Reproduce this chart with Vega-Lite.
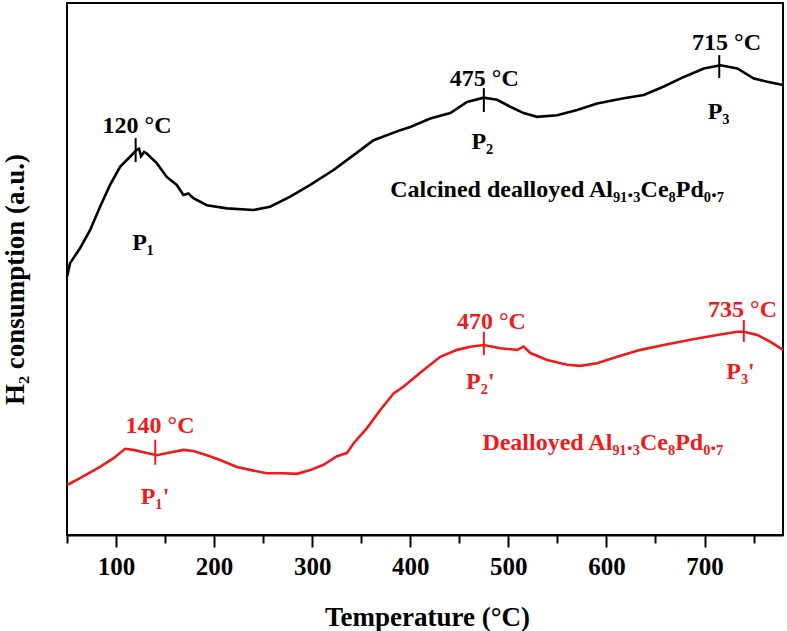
{
  "$schema": "https://vega.github.io/schema/vega-lite/v6.json",
  "width": 716,
  "height": 532,
  "autosize": {"type": "none"},
  "padding": {"left": 67, "top": 3, "right": 4, "bottom": 96},
  "background": "white",
  "config": {
    "view": {"stroke": "black", "strokeWidth": 2},
    "font": "Liberation Serif",
    "text": {"font": "Liberation Serif", "fontWeight": "bold"}
  },
  "datasets": {
    "curves": [
      {"series": "Calcined", "T": 50, "v": 48.5},
      {"series": "Calcined", "T": 53.1, "v": 51.1},
      {"series": "Calcined", "T": 63.3, "v": 53.9},
      {"series": "Calcined", "T": 73.5, "v": 57.3},
      {"series": "Calcined", "T": 83.7, "v": 61.7},
      {"series": "Calcined", "T": 93.9, "v": 65.8},
      {"series": "Calcined", "T": 104.1, "v": 69.2},
      {"series": "Calcined", "T": 114.3, "v": 71.1},
      {"series": "Calcined", "T": 121.1, "v": 72.4},
      {"series": "Calcined", "T": 123.5, "v": 72.6},
      {"series": "Calcined", "T": 125.5, "v": 71.2},
      {"series": "Calcined", "T": 128.6, "v": 72.0},
      {"series": "Calcined", "T": 131.3, "v": 71.7},
      {"series": "Calcined", "T": 141.5, "v": 69.9},
      {"series": "Calcined", "T": 151.7, "v": 67.3},
      {"series": "Calcined", "T": 161.9, "v": 65.8},
      {"series": "Calcined", "T": 168.7, "v": 63.9},
      {"series": "Calcined", "T": 173.8, "v": 64.2},
      {"series": "Calcined", "T": 178.9, "v": 63.3},
      {"series": "Calcined", "T": 192.6, "v": 62.0},
      {"series": "Calcined", "T": 213, "v": 61.4},
      {"series": "Calcined", "T": 240.1, "v": 61.1},
      {"series": "Calcined", "T": 257.1, "v": 61.7},
      {"series": "Calcined", "T": 277.6, "v": 63.6},
      {"series": "Calcined", "T": 298, "v": 65.8},
      {"series": "Calcined", "T": 321.7, "v": 68.6},
      {"series": "Calcined", "T": 342.2, "v": 71.4},
      {"series": "Calcined", "T": 362.6, "v": 74.2},
      {"series": "Calcined", "T": 389.8, "v": 76.1},
      {"series": "Calcined", "T": 400, "v": 76.7},
      {"series": "Calcined", "T": 420.4, "v": 78.3},
      {"series": "Calcined", "T": 440.8, "v": 79.3},
      {"series": "Calcined", "T": 457.9, "v": 81.4},
      {"series": "Calcined", "T": 474.8, "v": 82.2},
      {"series": "Calcined", "T": 488.5, "v": 81.8},
      {"series": "Calcined", "T": 502.0, "v": 80.5},
      {"series": "Calcined", "T": 515.6, "v": 79.3},
      {"series": "Calcined", "T": 529.3, "v": 78.6},
      {"series": "Calcined", "T": 549.7, "v": 78.9},
      {"series": "Calcined", "T": 570.1, "v": 79.9},
      {"series": "Calcined", "T": 590.5, "v": 81.1},
      {"series": "Calcined", "T": 617.7, "v": 82.1},
      {"series": "Calcined", "T": 638.1, "v": 82.7},
      {"series": "Calcined", "T": 658.5, "v": 84.3},
      {"series": "Calcined", "T": 678.9, "v": 86.1},
      {"series": "Calcined", "T": 699.3, "v": 87.7},
      {"series": "Calcined", "T": 716.3, "v": 88.3},
      {"series": "Calcined", "T": 733.4, "v": 87.7},
      {"series": "Calcined", "T": 750.3, "v": 85.8},
      {"series": "Calcined", "T": 764.0, "v": 85.2},
      {"series": "Calcined", "T": 780, "v": 84.6},
      {"series": "Dealloyed", "T": 50, "v": 9.4},
      {"series": "Dealloyed", "T": 63.3, "v": 10.7},
      {"series": "Dealloyed", "T": 83.7, "v": 12.8},
      {"series": "Dealloyed", "T": 97.2, "v": 14.4},
      {"series": "Dealloyed", "T": 109.2, "v": 16.2},
      {"series": "Dealloyed", "T": 117.7, "v": 16.0},
      {"series": "Dealloyed", "T": 131.3, "v": 15.4},
      {"series": "Dealloyed", "T": 141.5, "v": 15.0},
      {"series": "Dealloyed", "T": 155.1, "v": 15.5},
      {"series": "Dealloyed", "T": 168.7, "v": 16.0},
      {"series": "Dealloyed", "T": 178.9, "v": 15.8},
      {"series": "Dealloyed", "T": 192.6, "v": 15.0},
      {"series": "Dealloyed", "T": 206.1, "v": 14.1},
      {"series": "Dealloyed", "T": 223.2, "v": 12.8},
      {"series": "Dealloyed", "T": 240.1, "v": 12.1},
      {"series": "Dealloyed", "T": 253.8, "v": 11.6},
      {"series": "Dealloyed", "T": 270.7, "v": 11.6},
      {"series": "Dealloyed", "T": 284.4, "v": 11.5},
      {"series": "Dealloyed", "T": 298.0, "v": 12.2},
      {"series": "Dealloyed", "T": 311.5, "v": 13.2},
      {"series": "Dealloyed", "T": 325.2, "v": 14.8},
      {"series": "Dealloyed", "T": 335.4, "v": 15.4},
      {"series": "Dealloyed", "T": 342.1, "v": 17.2},
      {"series": "Dealloyed", "T": 355.8, "v": 20.1},
      {"series": "Dealloyed", "T": 369.4, "v": 23.5},
      {"series": "Dealloyed", "T": 383.0, "v": 26.6},
      {"series": "Dealloyed", "T": 393.2, "v": 27.9},
      {"series": "Dealloyed", "T": 413.6, "v": 31.0},
      {"series": "Dealloyed", "T": 430.6, "v": 33.5},
      {"series": "Dealloyed", "T": 447.7, "v": 34.8},
      {"series": "Dealloyed", "T": 461.2, "v": 35.4},
      {"series": "Dealloyed", "T": 474.8, "v": 35.7},
      {"series": "Dealloyed", "T": 491.8, "v": 35.1},
      {"series": "Dealloyed", "T": 508.9, "v": 34.8},
      {"series": "Dealloyed", "T": 515.6, "v": 35.4},
      {"series": "Dealloyed", "T": 522.4, "v": 34.2},
      {"series": "Dealloyed", "T": 539.5, "v": 32.9},
      {"series": "Dealloyed", "T": 559.9, "v": 32.0},
      {"series": "Dealloyed", "T": 573.5, "v": 31.8},
      {"series": "Dealloyed", "T": 590.5, "v": 32.3},
      {"series": "Dealloyed", "T": 610.9, "v": 33.5},
      {"series": "Dealloyed", "T": 634.7, "v": 34.8},
      {"series": "Dealloyed", "T": 658.5, "v": 35.7},
      {"series": "Dealloyed", "T": 685.7, "v": 36.7},
      {"series": "Dealloyed", "T": 712.9, "v": 37.6},
      {"series": "Dealloyed", "T": 733.4, "v": 38.2},
      {"series": "Dealloyed", "T": 740.1, "v": 38.2},
      {"series": "Dealloyed", "T": 753.8, "v": 37.6},
      {"series": "Dealloyed", "T": 767.3, "v": 36.3},
      {"series": "Dealloyed", "T": 780, "v": 34.8}
    ],
    "marks": [
      {"series": "Calcined", "T": 120, "v1": 74.6, "v2": 70.1},
      {"series": "Calcined", "T": 475, "v1": 84.0, "v2": 79.5},
      {"series": "Calcined", "T": 715, "v1": 90.2, "v2": 85.9},
      {"series": "Dealloyed", "T": 140, "v1": 17.9, "v2": 13.2},
      {"series": "Dealloyed", "T": 475, "v1": 38.2, "v2": 33.8},
      {"series": "Dealloyed", "T": 740, "v1": 40.4, "v2": 36.3}
    ],
    "labels": [
      {"series": "Calcined", "kind": "peak", "T": 121.4, "v": 76.8, "text": "120 °C"},
      {"series": "Calcined", "kind": "P", "T": 127.6, "v": 54.9, "text": "P₁"},
      {"series": "Calcined", "kind": "peak", "T": 475.5, "v": 85.8, "text": "475 °C"},
      {"series": "Calcined", "kind": "P", "T": 473.5, "v": 73.9, "text": "P₂"},
      {"series": "Calcined", "kind": "peak", "T": 722.4, "v": 92.4, "text": "715 °C"},
      {"series": "Calcined", "kind": "P", "T": 714.3, "v": 79.5, "text": "P₃"},
      {"series": "Dealloyed", "kind": "peak", "T": 144.9, "v": 20.4, "text": "140 °C"},
      {"series": "Dealloyed", "kind": "P", "T": 139.8, "v": 7.1, "text": "P₁'"},
      {"series": "Dealloyed", "kind": "peak", "T": 482.7, "v": 40.1, "text": "470 °C"},
      {"series": "Dealloyed", "kind": "P", "T": 471.4, "v": 28.8, "text": "P₂'"},
      {"series": "Dealloyed", "kind": "peak", "T": 738.8, "v": 42.2, "text": "735 °C"},
      {"series": "Dealloyed", "kind": "P", "T": 736.7, "v": 30.6, "text": "P₃'"}
    ],
    "names": [
      {"series": "Calcined", "T": 379.6, "v": 64.8, "text": "Calcined dealloyed Al₉₁.₃Ce₈Pd₀.₇"},
      {"series": "Dealloyed", "T": 473.5, "v": 17.3, "text": "Dealloyed Al₉₁.₃Ce₈Pd₀.₇"}
    ]
  },
  "layer": [
    {
      "data": {"name": "curves"},
      "mark": {"type": "line", "strokeWidth": 2.6},
      "encoding": {
        "x": {
          "field": "T", "type": "quantitative",
          "scale": {"domain": [50, 780], "nice": false, "zero": false},
          "axis": {
            "title": "Temperature (°C)",
            "titleFont": "Liberation Serif", "titleFontWeight": "bold", "titleFontSize": 27,
            "titleColor": "black", "titleX": 360, "titleY": 82, "titleBaseline": "middle", "titleAlign": "center",
            "values": [50, 100, 150, 200, 250, 300, 350, 400, 450, 500, 550, 600, 650, 700, 750],
            "labelExpr": "datum.value % 100 === 0 ? datum.label : ''",
            "labelFont": "Liberation Serif", "labelFontWeight": "bold", "labelFontSize": 25,
            "labelColor": "black", "labelPadding": 7,
            "tickSize": {"condition": {"test": "datum.value % 100 === 0", "value": 12}, "value": 8},
            "tickColor": "black", "tickWidth": 2,
            "domainColor": "black", "domainWidth": 2,
            "grid": false, "labelFlush": false, "labelOverlap": false
          }
        },
        "y": {
          "field": "v", "type": "quantitative",
          "scale": {"domain": [0, 100], "nice": false},
          "axis": {
            "title": "H₂ consumption (a.u.)",
            "titleFont": "Liberation Serif", "titleFontWeight": "bold", "titleFontSize": 27,
            "titleColor": "black", "titleX": -52, "titleY": 276, "titleAngle": 270,
            "titleAlign": "center", "titleBaseline": "middle",
            "ticks": false, "labels": false, "domain": false, "grid": false
          }
        },
        "color": {
          "field": "series", "type": "nominal",
          "scale": {"domain": ["Calcined", "Dealloyed"], "range": ["#000000", "#f01a1a"]},
          "legend": null
        }
      }
    },
    {
      "data": {"name": "marks"},
      "mark": {"type": "rule", "strokeWidth": 2},
      "encoding": {
        "x": {"field": "T", "type": "quantitative"},
        "y": {"field": "v1", "type": "quantitative"},
        "y2": {"field": "v2"},
        "color": {"field": "series", "type": "nominal", "legend": null}
      }
    },
    {
      "data": {"name": "labels"},
      "mark": {"type": "text", "fontSize": 24, "baseline": "middle", "align": "center"},
      "encoding": {
        "x": {"field": "T", "type": "quantitative"},
        "y": {"field": "v", "type": "quantitative"},
        "text": {"field": "text"},
        "color": {"field": "series", "type": "nominal", "legend": null}
      }
    },
    {
      "data": {"name": "names"},
      "mark": {"type": "text", "fontSize": 24, "baseline": "middle", "align": "left"},
      "encoding": {
        "x": {"field": "T", "type": "quantitative"},
        "y": {"field": "v", "type": "quantitative"},
        "text": {"field": "text"},
        "color": {"field": "series", "type": "nominal", "legend": null}
      }
    }
  ]
}
